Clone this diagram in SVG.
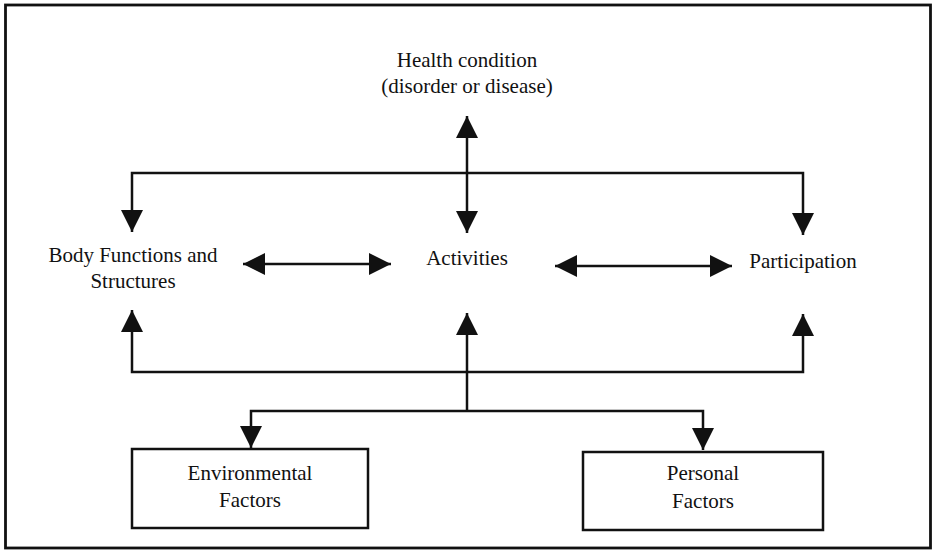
<svg xmlns="http://www.w3.org/2000/svg" width="937" height="550" viewBox="0 0 937 550">
<style>
.t{font-family:"Liberation Serif","Times New Roman",serif;font-size:21px;fill:#111;text-anchor:middle}
.c{fill:none;stroke:#111;stroke-width:2.5}
.b{fill:#fff;stroke:#111;stroke-width:2.5}
</style>
<defs>
<marker id="ah" viewBox="0 0 22 22" refX="22" refY="11" markerWidth="22" markerHeight="22" markerUnits="userSpaceOnUse" orient="auto-start-reverse">
<path d="M0,0 L22,11 L0,22 z" fill="#111"/>
</marker>
</defs>
<rect x="0" y="0" width="937" height="550" fill="#fff"/>
<rect id="frame" x="5.5" y="5" width="925" height="543" fill="none" stroke="#111" stroke-width="2.8"/>
<g id="connectors">
<line class="c" x1="467" y1="116" x2="467" y2="233" marker-start="url(#ah)" marker-end="url(#ah)"/>
<polyline class="c" points="132,232 132,173 803,173 803,235" marker-start="url(#ah)" marker-end="url(#ah)"/>
<line class="c" x1="243" y1="264" x2="391" y2="264" marker-start="url(#ah)" marker-end="url(#ah)"/>
<line class="c" x1="555" y1="266" x2="732" y2="266" marker-start="url(#ah)" marker-end="url(#ah)"/>
<polyline class="c" points="132,310 132,372 803,372 803,314" marker-start="url(#ah)" marker-end="url(#ah)"/>
<line class="c" x1="467" y1="412" x2="467" y2="313" marker-end="url(#ah)"/>
<polyline class="c" points="251,448 251,411 703,411 703,450" marker-start="url(#ah)" marker-end="url(#ah)"/>
</g>
<g id="health">
<text class="t" x="467" y="67">Health condition</text>
<text class="t" x="467" y="93">(disorder or disease)</text>
</g>
<g id="body">
<text class="t" x="133" y="262">Body Functions and</text>
<text class="t" x="133" y="288">Structures</text>
</g>
<g id="activities">
<text class="t" x="467" y="265">Activities</text>
</g>
<g id="participation">
<text class="t" x="803" y="268">Participation</text>
</g>
<g id="environmental">
<rect class="b" x="132" y="449" width="236" height="79"/>
<text class="t" x="250" y="480">Environmental</text>
<text class="t" x="250" y="507">Factors</text>
</g>
<g id="personal">
<rect class="b" x="583" y="452" width="240" height="78"/>
<text class="t" x="703" y="480">Personal</text>
<text class="t" x="703" y="508">Factors</text>
</g>
</svg>
